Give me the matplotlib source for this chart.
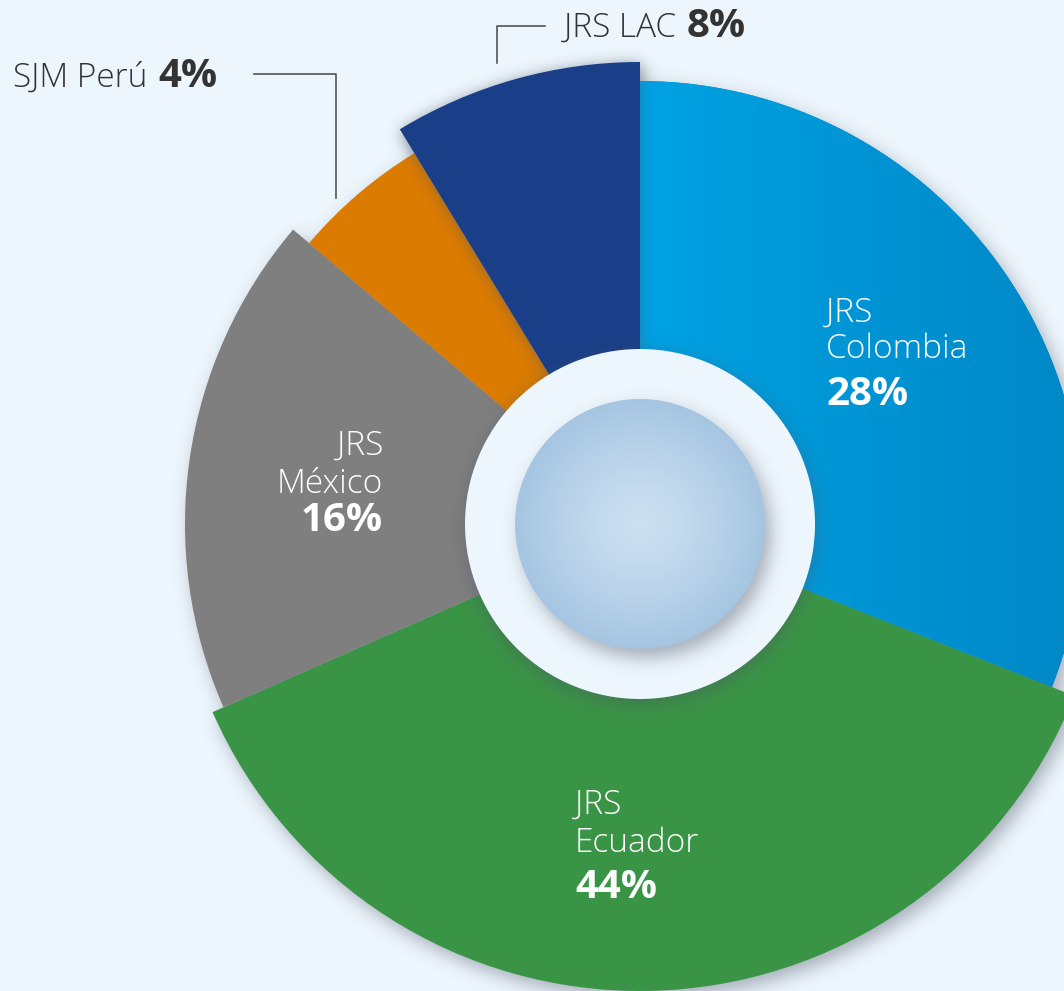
import numpy as np
import matplotlib.pyplot as plt
from matplotlib.patches import Wedge, Circle
from matplotlib.colors import to_rgb

# ------------------- Data -------------------
names = ['JRS\nColombia', 'JRS\nEcuador', 'JRS\nMéxico', 'SJM Perú', 'JRS LAC']
pct_labels = ['28%', '44%', '16%', '4%', '8%']
# angular share of each slice as it is drawn in the picture (%)
shares = [31.0, 37.4, 17.8, 5.1, 8.7]

# ------------------- Style -------------------
outer_r = [443, 467, 455, 434, 462]
colors = ['#0096D8', '#3A9445', '#7F7F7F', '#DB7B00', '#1A3F88']
bg = '#EEF6FD'
hole_r, ball_r = 175, 125
W, H, CX, CY = 1064, 991, 640, 524
plt.rcParams['font.family'] = ['Open Sans', 'DejaVu Sans']


def px(x, y):
    # picture pixel -> data coordinates (pie centre at origin)
    return x - CX, CY - y


# slice angles, clockwise from 12 o'clock
cum = 360 * np.concatenate([[0], np.cumsum(shares)]) / np.sum(shares)
t_start = 90 - cum[:-1]
t_end = 90 - cum[1:]

# ------------------- Grid for soft shadows -------------------
pad = 120
xs = np.arange(-CX - pad, W - CX + pad) + 0.5
ys = np.arange(CY + pad, CY - H - pad, -1) - 0.5
X, Y = np.meshgrid(xs, ys)
ext = (xs[0] - 0.5, xs[-1] + 0.5, ys[-1] - 0.5, ys[0] + 0.5)


def wedge_mask(i, dx=0, dy=0):
    x, y = X - dx, Y - dy
    t = np.degrees(np.arctan2(y, x))
    inside = ((t - t_end[i]) % 360) <= (t_start[i] - t_end[i])
    return (inside & (np.hypot(x, y) <= outer_r[i])).astype(float)


def disk_mask(r, dx=0, dy=0):
    return (np.hypot(X - dx, Y - dy) <= r).astype(float)


def blur(m, sigma):
    ky = np.fft.fftfreq(m.shape[0])[:, None]
    kx = np.fft.rfftfreq(m.shape[1])[None, :]
    g = np.exp(-2 * (np.pi * sigma) ** 2 * (kx ** 2 + ky ** 2))
    return np.fft.irfft2(np.fft.rfft2(m) * g, s=m.shape)


def shadow(ax, m, sigma, strength, z, col=(0.30, 0.33, 0.40)):
    a = np.clip(blur(m, sigma), 0, 1) * strength
    img = np.zeros(m.shape + (4,))
    img[..., :3] = col
    img[..., 3] = a
    ax.imshow(img, extent=ext, origin='upper', interpolation='bilinear', zorder=z)


# ------------------- Figure -------------------
fig = plt.figure(figsize=(W / 100, H / 100), dpi=100, facecolor=bg)
ax = fig.add_axes([0, 0, 1, 1])
ax.set_facecolor(bg)
ax.set_xlim(-CX, W - CX)
ax.set_ylim(CY - H, CY)
ax.axis('off')

# shadow of the whole ring
all_mask = np.clip(sum(wedge_mask(i, 5, -7) for i in range(len(shares))), 0, 1)
shadow(ax, all_mask, 9, 0.45, 1)

wedges = []
for i in range(len(shares)):
    z = 4 if i == 4 else 2
    w = Wedge((0, 0), outer_r[i], t_end[i], t_start[i], facecolor=colors[i],
              edgecolor='none', zorder=z)
    ax.add_patch(w)
    wedges.append(w)

# horizontal gradient on Colombia
grad = np.linspace(0, 1, 256)[None, :, None]
c0, c1 = np.array(to_rgb('#00A2E3')), np.array(to_rgb('#0087C6'))
im = ax.imshow(c0 + (c1 - c0) * grad, extent=(0, outer_r[0], -outer_r[0], outer_r[0]),
               aspect='auto', interpolation='bilinear', zorder=2.1)
im.set_clip_path(wedges[0])

# LAC slice lifts above its neighbours
shadow(ax, wedge_mask(4, 0, -2), 7, 0.45, 3)

# centre hole with shadow
shadow(ax, disk_mask(hole_r, 0, -5), 9, 0.45, 5)
ax.add_patch(Circle((0, 0), hole_r, facecolor=bg, edgecolor='none', zorder=6))

# ball in the middle
shadow(ax, disk_mask(ball_r, 6, -9), 9, 0.45, 7)
n = 300
gx, gy = np.meshgrid(np.linspace(-1, 1, n), np.linspace(-1, 1, n))
rr = np.clip(np.hypot(gx, gy), 0, 1)[..., None]
b0, b1 = np.array(to_rgb('#CDE0F1')), np.array(to_rgb('#A5C5E2'))
ball = ax.imshow(b0 + (b1 - b0) * rr ** 1.3, extent=(-ball_r, ball_r, -ball_r, ball_r),
                 interpolation='bilinear', zorder=8)
disk = Circle((0, 0), ball_r, facecolor='none', edgecolor='none', zorder=8)
ax.add_patch(disk)
ball.set_clip_path(disk)

# ------------------- Labels -------------------
name_kw = dict(fontsize=24, fontweight='light', zorder=10)
pct_kw = dict(fontsize=29, fontweight='bold', zorder=10)

# labels inside slices: (x, baselines, alignment)
inside = {0: (826, [322, 358, 405], 'left'),
          1: (575, [814, 852, 898], 'left'),
          2: (383, [455, 493, 531], 'right')}
for i, (x, bl, ha) in inside.items():
    for line, y in zip(names[i].split('\n'), bl[:2]):
        ax.text(*px(x, y), line, color='white', ha=ha, va='baseline', **name_kw)
    ax.text(*px(x, bl[2]), pct_labels[i], color='white', ha=ha, va='baseline', **pct_kw)

# outside labels: name in light, percentage in bold right after it
dark = '#333333'
fig.canvas.draw()
renderer = fig.canvas.get_renderer()
for i, (x, y) in {3: (13, 87), 4: (564, 37)}.items():
    t = ax.text(*px(x, y), names[i], color=dark, ha='left', va='baseline', **name_kw)
    x_end = ax.transData.inverted().transform(t.get_window_extent(renderer))[1, 0]
    ax.text(x_end + 11, px(x, y)[1], pct_labels[i], color=dark, ha='left',
            va='baseline', **pct_kw)

ax.plot(*zip(px(254, 74), px(336, 74), px(336, 198)), color='#555555', lw=1.2, zorder=10)
ax.plot(*zip(px(545, 26), px(497, 26), px(497, 63)), color='#555555', lw=1.2, zorder=10)

plt.savefig('out.png', dpi=100, facecolor=bg)
